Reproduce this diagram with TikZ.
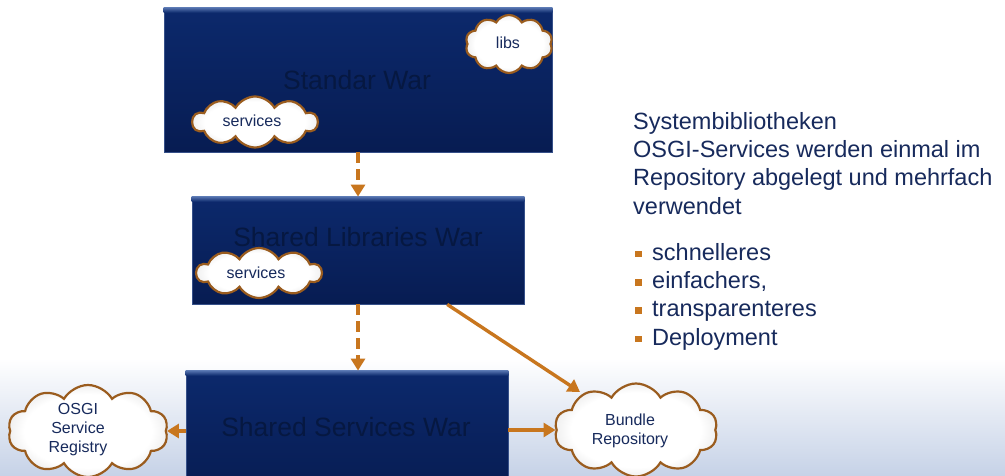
\documentclass[tikz,border=0pt]{standalone}
\usepackage{fontspec}
\setmainfont{Liberation Sans}
\usetikzlibrary{shapes.symbols,arrows.meta,calc}
\definecolor{navytop}{HTML}{0C296C}
\definecolor{navybot}{HTML}{071C52}
\definecolor{bevel}{HTML}{5573AE}
\definecolor{hidden}{HTML}{061841}
\definecolor{txt}{HTML}{172A5C}
\definecolor{arr}{HTML}{C8761E}
\definecolor{cloudline}{HTML}{9A5C1E}
\definecolor{bgblue}{HTML}{C6D2E7}
\pgfdeclareradialshading{cloudshade}{\pgfpoint{0bp}{0bp}}{color(0bp)=(white); color(20bp)=(white); color(30bp)=(black!12); color(36bp)=(black!32); color(50bp)=(black!45)}
\newcommand\mybul{\raisebox{3pt}{\textcolor{arr}{\rule{6.5pt}{6.5pt}}}\hspace{10.5pt}}
\begin{document}
\begin{tikzpicture}[x=1pt,y=-1pt,
  warbox/.style 2 args={draw=bevel!60!navybot, line width=0.8pt, top color=navytop, bottom color=navybot, minimum width=#1, minimum height=#2, inner sep=0},
  wartitle/.style={font=\fontsize{26.5}{30}\selectfont, text=hidden, inner sep=0},
  cloudnode/.style={cloud, cloud puffs=10, cloud puff arc=120, cloud ignores aspect, draw=cloudline, line width=2.2pt, shading=cloudshade, shade, inner sep=0},
  cloudtext/.style={font=\fontsize{16}{19}\selectfont, text=txt, align=center, inner sep=0},
  flow/.style={draw=arr, line width=3.4pt, -{Triangle[length=12pt,width=14pt]}},
  dashflow/.style={flow, dash pattern=on 11pt off 6pt},
  bodytext/.style={anchor=north west, inner sep=0, align=left, text=txt, font=\fontsize{23.5}{28.3}\selectfont}
]
\useasboundingbox (0,0) rectangle (1005,476);
\clip (0,0) rectangle (1005,476);
\fill[white] (0,0) rectangle (1005,476);
\shade[top color=white, bottom color=bgblue] (0,358) rectangle (1005,476);

% boxes
\node[warbox={388pt}{144pt}] (b1) at (358,80) {};
\shade[top color=bevel, bottom color=navytop] (b1.north west) rectangle ([yshift=-5pt]b1.north east);
\node[wartitle] (t1) at (357,80) {Standar War};

\node[warbox={332pt}{107pt}] (b2) at (358,250.5) {};
\shade[top color=bevel, bottom color=navytop] (b2.north west) rectangle ([yshift=-5pt]b2.north east);
\node[wartitle] (t2) at (358,237) {Shared Libraries War};

\node[warbox={322pt}{124pt}] (b3) at (347,433) {};
\shade[top color=bevel, bottom color=navytop] (b3.north west) rectangle ([yshift=-5pt]b3.north east);
\node[wartitle] (t3) at (346,427) {Shared Services War};

% clouds
\node[cloudnode, minimum width=87pt, minimum height=58pt] (libs) at (509,44) {};
\node[cloudtext] (libst) at (508,43) {libs};
\node[cloudnode, minimum width=125pt, minimum height=51pt] (s1) at (255,122) {};
\node[cloudtext] (s1t) at (252,121) {services};
\node[cloudnode, minimum width=125pt, minimum height=50pt] (s2) at (259,273) {};
\node[cloudtext] (s2t) at (256,273) {services};
\node[cloudnode, minimum width=160pt, minimum height=92pt] (osgi) at (88,431) {};
\node[cloudtext] (osgit) at (78,430) {OSGI\\Service\\Registry};
\node[cloudnode, minimum width=163pt, minimum height=93pt] (bundle) at (636,430) {};
\node[cloudtext] (bundlet) at (630,431) {Bundle\\Repository};

% connectors
\draw[dashflow] (b1.south) -- (b2.north);
\draw[dashflow] (b2.south) -- (b2.south |- b3.north);
\coordinate (s2out) at ($(b2.south west)!0.768!(b2.south east)$);
\coordinate (bundlein) at (580,392);
\draw[flow] (s2out) -- (bundlein);
\draw[flow] (b3.west |- osgi.east) -- (osgi.east);
\draw[flow] (b3.east |- bundle.west) -- (bundle.west);

% right text
\node[bodytext] (para) at (633,112) {Systembibliotheken\\OSGI-Services werden einmal im\\Repository abgelegt und mehrfach\\verwendet};
\node[bodytext] (list) at (635,243) {\mybul schnelleres\\\mybul einfachers,\\\mybul transparenteres\\\mybul Deployment};
\end{tikzpicture}
\end{document}
